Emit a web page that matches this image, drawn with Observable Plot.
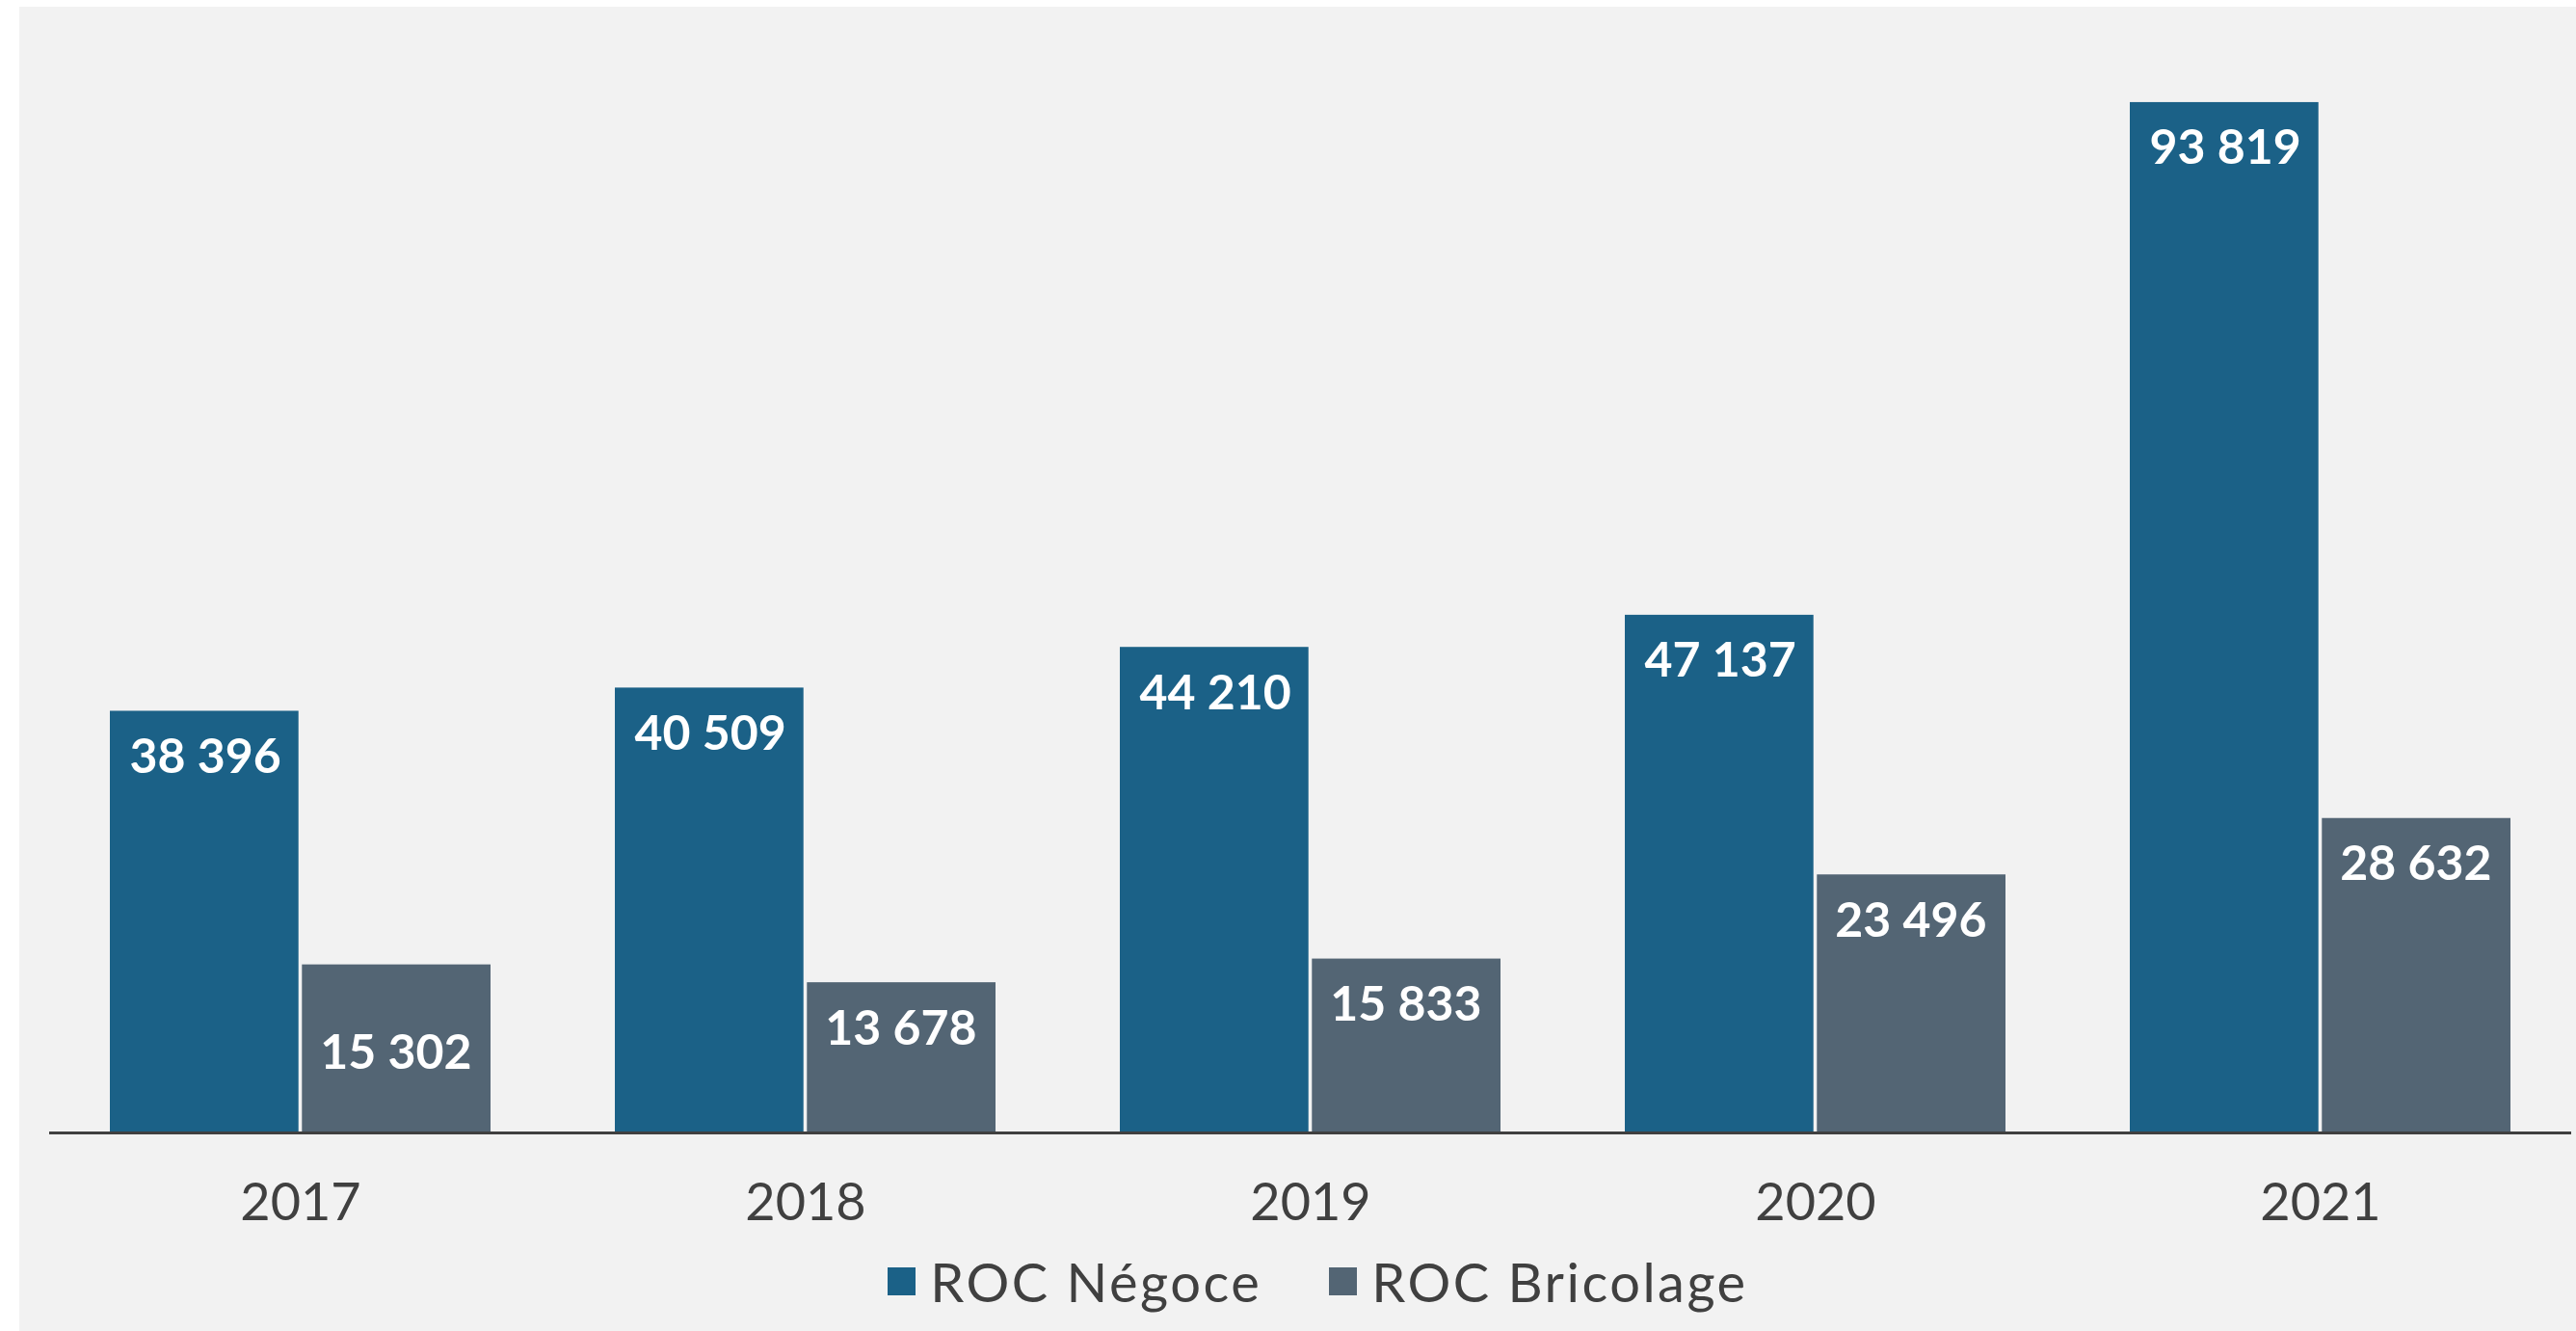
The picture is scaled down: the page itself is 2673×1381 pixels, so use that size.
<!DOCTYPE html>
<html><head><meta charset="utf-8">
<script src="https://cdn.jsdelivr.net/npm/d3@7"></script>
<script src="https://cdn.jsdelivr.net/npm/@observablehq/plot@0.6"></script>
<style>
html,body{margin:0;padding:0;background:#fff;}
#panel{position:absolute;left:20px;top:7px;width:2653px;height:1374px;background:#f2f2f2;font-family:Lato,"Noto Sans",sans-serif;overflow:hidden;}
#legend{display:flex;justify-content:center;align-items:center;padding-left:42px;margin-top:1px;color:#404040;font-size:56px;font-weight:400;letter-spacing:2.5px;}
.item{display:flex;align-items:center;margin:0 35px;}
.sw{width:29px;height:29px;margin-right:15px;}
</style></head><body><div id="panel"></div>
<script>
const years = ["2017","2018","2019","2020","2021"];
const negoce = [38396, 40509, 44210, 47137, 93819];
const bricolage = [15302, 13678, 15833, 23496, 28632];
const seriesNames = ["ROC Négoce", "ROC Bricolage"];
const colors = ["#1b6187", "#536574"];

const W = 2653, H = 1288, ml = 31, mr = 5, mt = 28.5, mb = 120;
const pi = 0.246, po = 0.117;
const step = (W - ml - mr) / (years.length - pi + 2 * po);
const bw = step * (1 - pi);
const gap = 1.5;

const dataN = years.map((y, i) => ({year: y, value: negoce[i], series: seriesNames[0]}));
const dataB = years.map((y, i) => ({year: y, value: bricolage[i], series: seriesNames[1]}));
const fmt = d3.formatLocale({thousands: "\u00a0", grouping: [3], decimal: ",", currency: ["", "€"]}).format(",d");

const labelStyle = {fill: "white", fontSize: 50, fontWeight: "bold", textAnchor: "middle", lineAnchor: "middle", fontFamily: "Lato"};

const chart = Plot.plot({
  width: W, height: H,
  marginLeft: ml, marginRight: mr, marginTop: mt, marginBottom: mb,
  style: {background: "transparent", fontFamily: "Lato", overflow: "visible"},
  x: {domain: years, paddingInner: pi, paddingOuter: po, label: null, axis: null},
  y: {domain: [0, 100000], axis: null},
  marks: [
    Plot.barY(dataN, {x: "year", y: "value", fill: colors[0], insetRight: bw / 2 + gap}),
    Plot.barY(dataB, {x: "year", y: "value", fill: colors[1], insetLeft: bw / 2 + gap}),
    Plot.ruleY([0], {stroke: "#404040", strokeWidth: 3}),
    Plot.text(dataN, {x: "year", y: "value", text: d => fmt(d.value), dx: -bw / 4, dy: 48, ...labelStyle}),
    Plot.text(dataB.filter((d, i) => i !== 0), {x: "year", y: "value", text: d => fmt(d.value), dx: bw / 4, dy: 48, ...labelStyle}),
    Plot.text(dataB.filter((d, i) => i === 0), {x: "year", y: "value", text: d => fmt(d.value), dx: bw / 4, dy: 92, ...labelStyle}),
    Plot.axisX({tickSize: 0, tickPadding: 52, fontSize: 54, fill: "#404040", label: null})
  ]
});

const panel = document.getElementById("panel");
panel.appendChild(chart);
const legend = document.createElement("div");
legend.id = "legend";
seriesNames.forEach((s, i) => {
  const it = document.createElement("div");
  it.className = "item";
  const sw = document.createElement("span");
  sw.className = "sw";
  sw.style.background = colors[i];
  const t = document.createElement("span");
  t.textContent = s;
  it.appendChild(sw); it.appendChild(t);
  legend.appendChild(it);
});
panel.appendChild(legend);
</script>
</body></html>
